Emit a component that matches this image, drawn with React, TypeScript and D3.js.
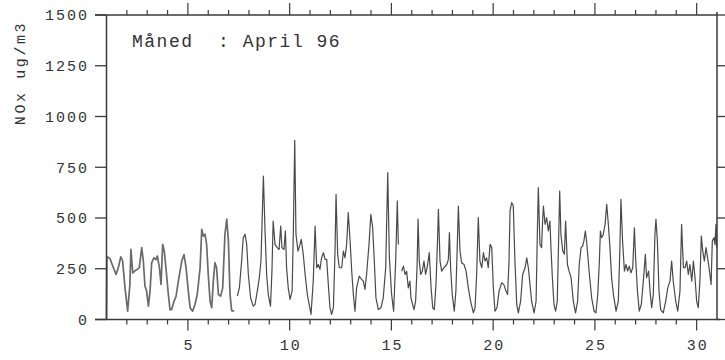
import React from "react";
import * as d3 from "d3";

// NOx hourly series for April 1996 as [day, ug/m3]
const seg1: [number, number][] = [
  [1.0, 0], [1.02, 310], [1.17, 300], [1.34, 255], [1.47, 222], [1.58, 255], [1.7, 308], [1.79, 290], [1.91, 156],
  [2.04, 41], [2.15, 173], [2.2, 345], [2.29, 230], [2.4, 240], [2.52, 247], [2.61, 255], [2.73, 354], [2.81, 288], [2.89, 165], [2.97, 140],
  [3.06, 66], [3.14, 140], [3.22, 280], [3.33, 304], [3.43, 295], [3.5, 313], [3.6, 255], [3.68, 173], [3.76, 370], [3.84, 337], [3.92, 255],
  [4.04, 123], [4.12, 49], [4.2, 49], [4.32, 90], [4.42, 115], [4.53, 189], [4.7, 288], [4.81, 320], [4.91, 255],
  [5.02, 140], [5.11, 58], [5.23, 41], [5.35, 74], [5.46, 123], [5.6, 255], [5.68, 444], [5.76, 411], [5.84, 420], [5.92, 370],
  [6.0, 222], [6.09, 90], [6.17, 58], [6.25, 189], [6.33, 280], [6.41, 255], [6.5, 123], [6.61, 115], [6.71, 156], [6.82, 420], [6.91, 494], [6.99, 387],
  [7.07, 123], [7.15, 44], [7.27, 41],
];

const seg2: [number, number][] = [
  [7.43, 115], [7.53, 156], [7.64, 288], [7.72, 403], [7.81, 420], [7.89, 370], [7.97, 222], [8.08, 107], [8.21, 66], [8.3, 74],
  [8.41, 140], [8.51, 206], [8.59, 288], [8.71, 707], [8.79, 436], [8.87, 222], [8.95, 123], [9.06, 66], [9.13, 238], [9.19, 485],
  [9.28, 370], [9.39, 354], [9.48, 345], [9.56, 460], [9.62, 354], [9.72, 345], [9.79, 436], [9.85, 255], [9.93, 156], [10.02, 99],
  [10.12, 140], [10.18, 420], [10.25, 883], [10.31, 420], [10.41, 337], [10.51, 370], [10.57, 395], [10.67, 320], [10.76, 222], [10.87, 123],
  [11.05, 25], [11.16, 189], [11.25, 460], [11.33, 255], [11.41, 271], [11.49, 247], [11.57, 304], [11.66, 329], [11.74, 296], [11.82, 296],
  [11.9, 173], [11.98, 58], [12.06, 25], [12.15, 58], [12.23, 337], [12.28, 617], [12.36, 321], [12.44, 255], [12.56, 255], [12.64, 337],
  [12.72, 304], [12.8, 370], [12.88, 526], [12.97, 387], [13.05, 238], [13.13, 123], [13.21, 41], [13.29, 156], [13.42, 214], [13.54, 197],
  [13.62, 189], [13.7, 148], [13.78, 222], [13.9, 370], [13.99, 518], [14.08, 452], [14.16, 288], [14.24, 107], [14.36, 49], [14.49, 58],
  [14.6, 107], [14.72, 255], [14.82, 724], [14.9, 304], [15.01, 123], [15.11, 41], [15.21, 288], [15.29, 584], [15.34, 370],
];

const seg3: [number, number][] = [
  [15.5, 238], [15.59, 263], [15.67, 222], [15.75, 238], [15.83, 156], [15.91, 189], [15.96, 107], [16.11, 49], [16.19, 90], [16.26, 255],
  [16.31, 494], [16.37, 288], [16.44, 222], [16.52, 238], [16.6, 288], [16.68, 222], [16.77, 263], [16.86, 329], [16.95, 156], [17.03, 58],
  [17.11, 49], [17.19, 173], [17.26, 370], [17.31, 543], [17.39, 288], [17.47, 238], [17.58, 255], [17.72, 271], [17.8, 296], [17.85, 428],
  [17.91, 255], [17.99, 123], [18.09, 41], [18.17, 140], [18.24, 370], [18.29, 559], [18.37, 337], [18.45, 280], [18.57, 271], [18.67, 238],
  [18.78, 156], [18.89, 90], [19.03, 33], [19.11, 58], [19.19, 222], [19.27, 502], [19.35, 288], [19.44, 255], [19.52, 329], [19.6, 288],
  [19.68, 304], [19.76, 255], [19.85, 370], [19.93, 354], [20.01, 156], [20.09, 41], [20.19, 58], [20.29, 140], [20.42, 181], [20.52, 173],
  [20.63, 140], [20.71, 123], [20.78, 288], [20.83, 535], [20.91, 576], [20.99, 559], [21.07, 288], [21.16, 74], [21.24, 33], [21.35, 90],
  [21.45, 222], [21.57, 255], [21.65, 304], [21.73, 255], [21.81, 173], [21.89, 90], [22.01, 33], [22.11, 90], [22.17, 419], [22.22, 650],
  [22.3, 370], [22.38, 354], [22.43, 485], [22.47, 559], [22.55, 469], [22.63, 502], [22.71, 436], [22.79, 485], [22.84, 354], [22.91, 206],
  [22.99, 74], [23.07, 41], [23.15, 90], [23.22, 403], [23.27, 633], [23.33, 419], [23.42, 337], [23.5, 321], [23.56, 485], [23.65, 271],
  [23.73, 238], [23.83, 206], [23.94, 90], [24.05, 33], [24.15, 90], [24.23, 271], [24.32, 354], [24.4, 362], [24.46, 387], [24.53, 436],
  [24.59, 387], [24.73, 222], [24.84, 107], [24.96, 41], [25.05, 33], [25.14, 123], [25.22, 288], [25.27, 436], [25.33, 403], [25.41, 419],
  [25.5, 469], [25.58, 567], [25.66, 469], [25.74, 354], [25.82, 206], [25.91, 123], [26.04, 41], [26.15, 90], [26.23, 354], [26.28, 592],
  [26.36, 387], [26.45, 238], [26.53, 271], [26.61, 238], [26.69, 263], [26.77, 230], [26.86, 255], [26.94, 452], [27.0, 304], [27.09, 140],
  [27.18, 41], [27.28, 74], [27.38, 189], [27.48, 321], [27.54, 206], [27.64, 238], [27.71, 140], [27.79, 58], [27.87, 123], [27.95, 419],
  [28.0, 494], [28.07, 387], [28.15, 140], [28.23, 49], [28.36, 33], [28.48, 90], [28.58, 156], [28.69, 189], [28.77, 288], [28.85, 189],
  [28.97, 90], [29.07, 41], [29.18, 140], [29.26, 469], [29.35, 255], [29.43, 255], [29.51, 288], [29.59, 222], [29.67, 271], [29.76, 189],
  [29.84, 288], [29.92, 206], [30.0, 90], [30.08, 58], [30.16, 189], [30.23, 411], [30.3, 337], [30.38, 288], [30.46, 354], [30.54, 304],
  [30.61, 255], [30.71, 173], [30.77, 387], [30.85, 403], [30.9, 370], [30.95, 469], [30.98, 354],
];

const yTicks = [0, 250, 500, 750, 1000, 1250, 1500];
const xLabelTicks = [5, 10, 15, 20, 25, 30];
const dayTicks = [2, 3, 4, 5, 6, 7, 8, 9, 10, 11, 12, 13, 14, 15, 16, 17, 18, 19, 20, 21, 22, 23, 24, 25, 26, 27, 28, 29, 30];
const yTitle = "NOx ug/m3";
const monthLabel = "Måned  : April 96";

const W = 725;
const H = 360;
const FONT = "'Liberation Mono', 'Courier New', monospace";
const AX = "#3a3a3a";

export default function App() {
  const x = d3.scaleLinear().domain([1, 31]).range([106.5, 717]);
  const y = d3.scaleLinear().domain([0, 1500]).range([319.5, 15]);
  const line = d3
    .line<[number, number]>()
    .x((d) => x(d[0]))
    .y((d) => y(d[1]));

  const x0 = x(1);
  const x1 = x(31);
  const yb = y(0);
  const yt = y(1500);

  return (
    <svg
      width={W}
      height={H}
      style={{ position: "absolute", left: 0, top: 0, background: "#fff" }}
    >
      {/* data */}
      <path d={line(seg1) || ""} fill="none" stroke="#6a6a6a" strokeWidth={1.7} strokeLinejoin="round" />
      <path d={line(seg2) || ""} fill="none" stroke="#4a4a4a" strokeWidth={1.2} strokeLinejoin="round" />
      <path d={line(seg3) || ""} fill="none" stroke="#4a4a4a" strokeWidth={1.2} strokeLinejoin="round" />

      {/* frame */}
      <line x1={95} x2={x1 + 3} y1={yb} y2={yb} stroke={AX} strokeWidth={1.5} />
      <line x1={95} x2={x1} y1={yt} y2={yt} stroke={AX} strokeWidth={1.5} />
      <line x1={x0} x2={x0} y1={yt} y2={yb} stroke={AX} strokeWidth={1.5} />
      <line x1={x1} x2={x1} y1={yt - 3} y2={yb} stroke={AX} strokeWidth={1.5} />

      {/* y ticks left and right */}
      {yTicks.map((t) => (
        <g key={"y" + t}>
          <line x1={95} x2={x0} y1={y(t)} y2={y(t)} stroke={AX} strokeWidth={1.3} />
          <line x1={x1} x2={725} y1={y(t)} y2={y(t)} stroke={AX} strokeWidth={1.3} />
          <text
            x={89}
            y={y(t)}
            dy="0.35em"
            textAnchor="end"
            fontFamily={FONT}
            fontSize={15}
            letterSpacing={2}
            fill="#333"
          >
            {t}
          </text>
        </g>
      ))}

      {/* x ticks bottom and top */}
      {dayTicks.map((d) => {
        const major = xLabelTicks.includes(d);
        return (
          <g key={"x" + d}>
            <line x1={x(d)} x2={x(d)} y1={yb} y2={yb + (major ? 11 : 5)} stroke={AX} strokeWidth={1.2} />
            <line x1={x(d)} x2={x(d)} y1={yt} y2={yt - (major ? 12 : 5)} stroke={AX} strokeWidth={1.2} />
          </g>
        );
      })}
      {xLabelTicks.map((d) => (
        <text
          key={"xl" + d}
          x={x(d) + 1}
          y={350}
          textAnchor="middle"
          fontFamily={FONT}
          fontSize={15}
          letterSpacing={2}
          fill="#333"
        >
          {d}
        </text>
      ))}

      {/* y title */}
      <text
        transform="translate(25, 73) rotate(-90)"
        textAnchor="middle"
        fontFamily={FONT}
        fontSize={15}
        letterSpacing={2.6}
        fill="#333"
      >
        {yTitle}
      </text>

      {/* month label */}
      <text
        x={132}
        y={47}
        fontFamily={FONT}
        fontSize={18}
        letterSpacing={1.5}
        fill="#333"
        style={{ whiteSpace: "pre" }}
      >
        {monthLabel}
      </text>
    </svg>
  );
}
